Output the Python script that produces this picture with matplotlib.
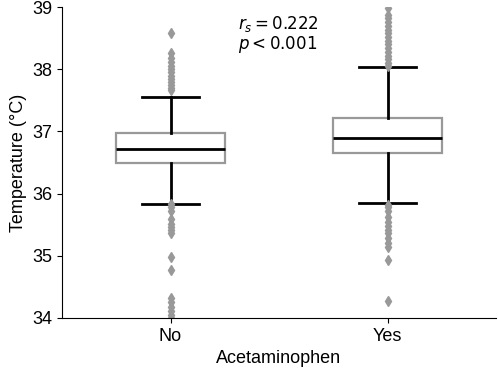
import matplotlib
matplotlib.use("Agg")
import matplotlib.pyplot as plt

# box statistics
groups = ["No", "Yes"]
medians = [36.72, 36.89]
q1 = [36.50, 36.66]
q3 = [36.97, 37.22]
whislo = [35.84, 35.85]
whishi = [37.56, 38.03]
fliers = [
    [38.58, 38.26, 38.18, 38.12, 38.06, 38.0, 37.95, 37.9, 37.85, 37.8, 37.74, 37.7, 37.67,
     35.84, 35.78, 35.72, 35.6, 35.52, 35.47, 35.42, 35.37, 34.98, 34.78,
     34.32, 34.25, 34.18, 34.12, 34.05, 34.0],
    [38.98, 38.88, 38.82, 38.76, 38.7, 38.64, 38.58, 38.52, 38.46, 38.4, 38.34, 38.28,
     38.22, 38.16, 38.1, 38.05,
     35.82, 35.78, 35.72, 35.62, 35.55, 35.48, 35.42, 35.36, 35.28, 35.2, 35.14,
     34.94, 34.28],
]

plt.rcParams['font.family'] = ['Liberation Sans', 'DejaVu Sans']

fig = plt.figure(figsize=(4.98, 3.77), dpi=100)
ax = fig.add_axes([0.1245, 0.1565, 0.8715, 0.8245])

stats = []
for i in range(len(groups)):
    stats.append(dict(med=medians[i], q1=q1[i], q3=q3[i], whislo=whislo[i],
                      whishi=whishi[i], fliers=fliers[i], label=groups[i]))

ax.bxp(stats, positions=[0, 1], widths=0.5, patch_artist=True,
       boxprops=dict(facecolor="white", edgecolor="#999999", linewidth=1.6),
       medianprops=dict(color="black", linewidth=2),
       whiskerprops=dict(color="black", linewidth=2),
       capprops=dict(color="black", linewidth=2),
       capwidths=0.26,
       flierprops=dict(marker="d", markerfacecolor="#999999", markeredgecolor="#999999",
                       markersize=5))

ax.set_xlim(-0.5, 1.5)
ax.set_ylim(34, 39)
ax.set_yticks([34, 35, 36, 37, 38, 39])
ax.spines["top"].set_visible(False)
ax.spines["right"].set_visible(False)
ax.tick_params(labelsize=13)
ax.set_xlabel("Acetaminophen", fontsize=13)
ax.set_ylabel("Temperature (°C)", fontsize=13)

ax.text(0.31, 38.32, "$r_s = 0.222$\n$p < 0.001$", fontsize=12,
        family="DejaVu Sans", linespacing=1.05)

fig.savefig("out.png", dpi=100)
